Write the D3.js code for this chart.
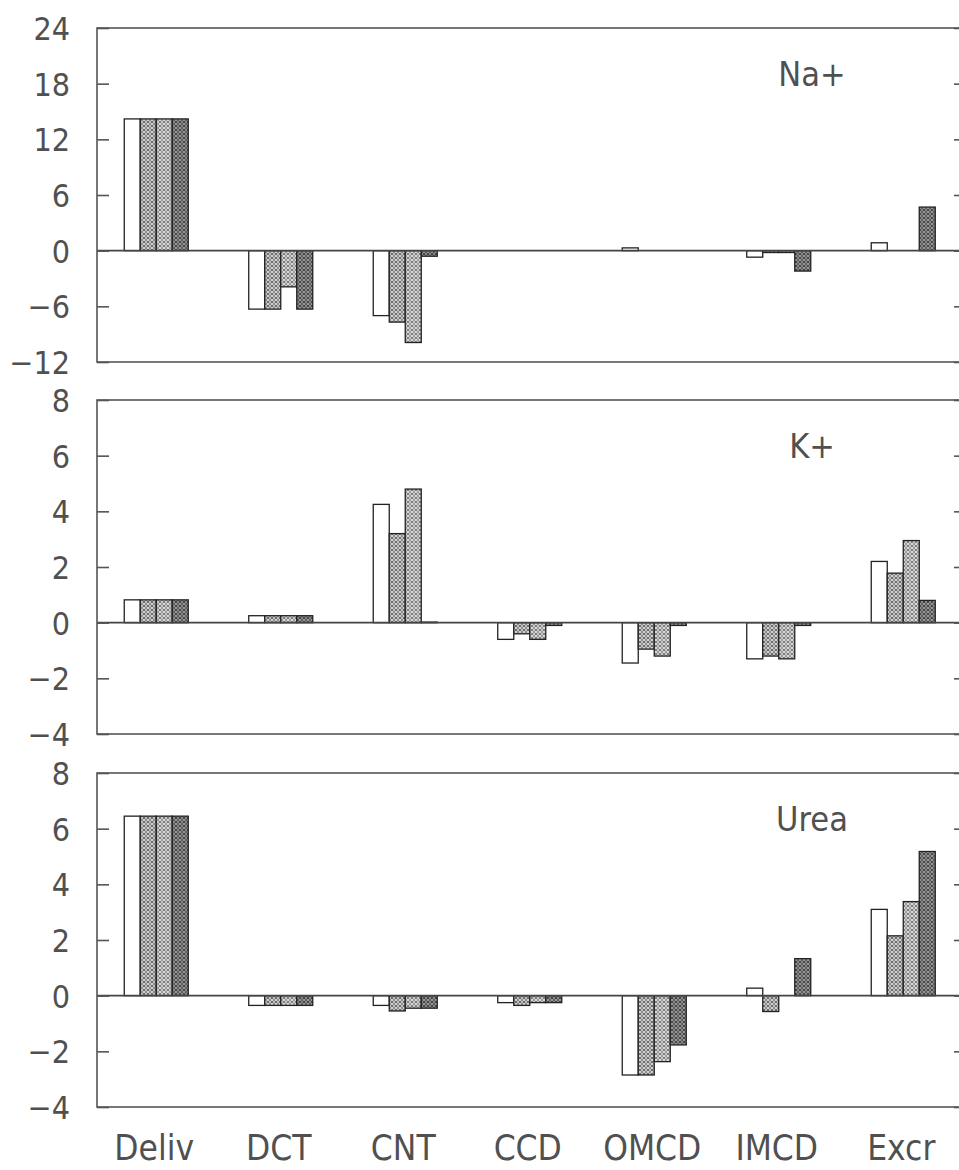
<!DOCTYPE html>
<html>
<head>
<meta charset="utf-8">
<script src="https://cdn.jsdelivr.net/npm/d3@7.9.0/dist/d3.min.js"></script>
<style>
  body { margin: 0; background: #fff; }
  svg text { font-family: "Liberation Sans Narrow", "DejaVu Sans Condensed", "Liberation Sans", sans-serif; fill: #505050; }
</style>
</head>
<body>
<svg id="chart" width="959" height="1170"></svg>
<script>
const categories = ['Deliv', 'DCT', 'CNT', 'CCD', 'OMCD', 'IMCD', 'Excr'];
const series = ['s1', 's2', 's3', 's4'];

// one row per category, four series values each
const naValues = [
  [14.2, 14.2, 14.2, 14.2],
  [-6.3, -6.3, -3.9, -6.3],
  [-7.0, -7.7, -9.9, -0.6],
  [0, 0, 0, 0],
  [0.3, 0, 0, 0],
  [-0.7, -0.2, -0.2, -2.2],
  [0.85, 0, 0, 4.7]
];
const kValues = [
  [0.82, 0.82, 0.82, 0.82],
  [0.25, 0.25, 0.25, 0.25],
  [4.25, 3.2, 4.8, 0.02],
  [-0.6, -0.4, -0.6, -0.1],
  [-1.45, -0.95, -1.2, -0.1],
  [-1.3, -1.2, -1.3, -0.1],
  [2.2, 1.78, 2.95, 0.8]
];
const ureaValues = [
  [6.45, 6.45, 6.45, 6.45],
  [-0.35, -0.35, -0.35, -0.35],
  [-0.35, -0.55, -0.45, -0.45],
  [-0.25, -0.35, -0.25, -0.25],
  [-2.85, -2.85, -2.37, -1.77],
  [0.27, -0.57, 0, 1.33],
  [3.1, 2.15, 3.38, 5.18]
];

const naTicks = [-12, -6, 0, 6, 12, 18, 24];
const kTicks = [-4, -2, 0, 2, 4, 6, 8];
const ureaTicks = [-4, -2, 0, 2, 4, 6, 8];

const panels = [
  { label: 'Na+', values: naValues, ticks: naTicks, top: 28 },
  { label: 'K+', values: kValues, ticks: kTicks, top: 400 },
  { label: 'Urea', values: ureaValues, ticks: ureaTicks, top: 773 }
];

const svg = d3.select('#chart');
const left = 97, right = 966, panelH = 334;

// fill patterns for the shaded bars
const defs = svg.append('defs');
function addPattern(id, bg, dot, size, r) {
  let p = defs.append('pattern')
      .attr('id', id)
      .attr('patternUnits', 'userSpaceOnUse')
      .attr('width', size).attr('height', size);
  p.append('rect').attr('width', size).attr('height', size).attr('fill', bg);
  p.append('ellipse')
      .attr('cx', size / 2).attr('cy', size / 2)
      .attr('rx', r * 1.4).attr('ry', r)
      .attr('fill', 'none').attr('stroke', dot).attr('stroke-width', 0.9);
}
addPattern('p2', '#e6e6e6', '#555', 4, 1.3);
addPattern('p3', '#ececec', '#666', 4, 1.3);
addPattern('p4', '#a8a8a8', '#333', 4, 1.3);
const fills = ['#fff', 'url(#p2)', 'url(#p3)', 'url(#p4)'];

let x = d3.scaleBand().domain(categories).range([94, 965.5]);
let xInner = d3.scaleBand().domain(series).range([0, 64]);

panels.forEach((panel) => {
  let y = d3.scaleLinear()
      .domain([panel.ticks[0], panel.ticks[panel.ticks.length - 1]])
      .range([panel.top + panelH, panel.top]);
  let g = svg.append('g');

  // bars
  panel.values.forEach((vals, ci) => {
    let x0 = x(categories[ci]) + (x.bandwidth() - 64) / 2;
    vals.forEach((v, si) => {
      g.append('rect')
          .attr('x', x0 + xInner(series[si]))
          .attr('y', y(Math.max(v, 0)))
          .attr('width', xInner.bandwidth())
          .attr('height', Math.abs(y(v) - y(0)))
          .attr('fill', fills[si])
          .attr('stroke', '#222')
          .attr('stroke-width', 1.3);
    });
  });

  // zero line
  g.append('line')
      .attr('x1', left).attr('x2', right)
      .attr('y1', y(0)).attr('y2', y(0))
      .attr('stroke', '#444').attr('stroke-width', 1.6);

  // frame
  g.append('rect')
      .attr('x', left).attr('y', panel.top)
      .attr('width', right - left).attr('height', panelH)
      .attr('fill', 'none').attr('stroke', '#555').attr('stroke-width', 1.6);

  // left axis with inward ticks
  let yAxis = d3.axisLeft(y).tickValues(panel.ticks)
      .tickSizeInner(-12).tickSizeOuter(0).tickPadding(27);
  let ax = g.append('g').attr('transform', `translate(${left},0)`).call(yAxis);
  ax.select('.domain').remove();
  ax.selectAll('line').attr('stroke', '#555').attr('stroke-width', 1.6);
  ax.selectAll('text').style('font-size', '32px').attr('dy', '0.36em');

  let rAxis = d3.axisRight(y).tickValues(panel.ticks)
      .tickSizeInner(-12).tickSizeOuter(0).tickFormat('');
  let rx = g.append('g').attr('transform', `translate(${right},0)`).call(rAxis);
  rx.select('.domain').remove();
  rx.selectAll('line').attr('stroke', '#555').attr('stroke-width', 1.6);

  // panel label
  g.append('text')
      .attr('x', 812).attr('y', panel.top + 58)
      .attr('text-anchor', 'middle')
      .style('font-size', '34px')
      .text(panel.label);
});

// category labels
svg.append('g').selectAll('text')
  .data(categories)
  .join('text')
    .attr('x', (d) => x(d) + x.bandwidth() / 2 - 2)
    .attr('y', 1160)
    .attr('text-anchor', 'middle')
    .style('font-size', '35px')
    .text((d) => d);
</script>
</body>
</html>
